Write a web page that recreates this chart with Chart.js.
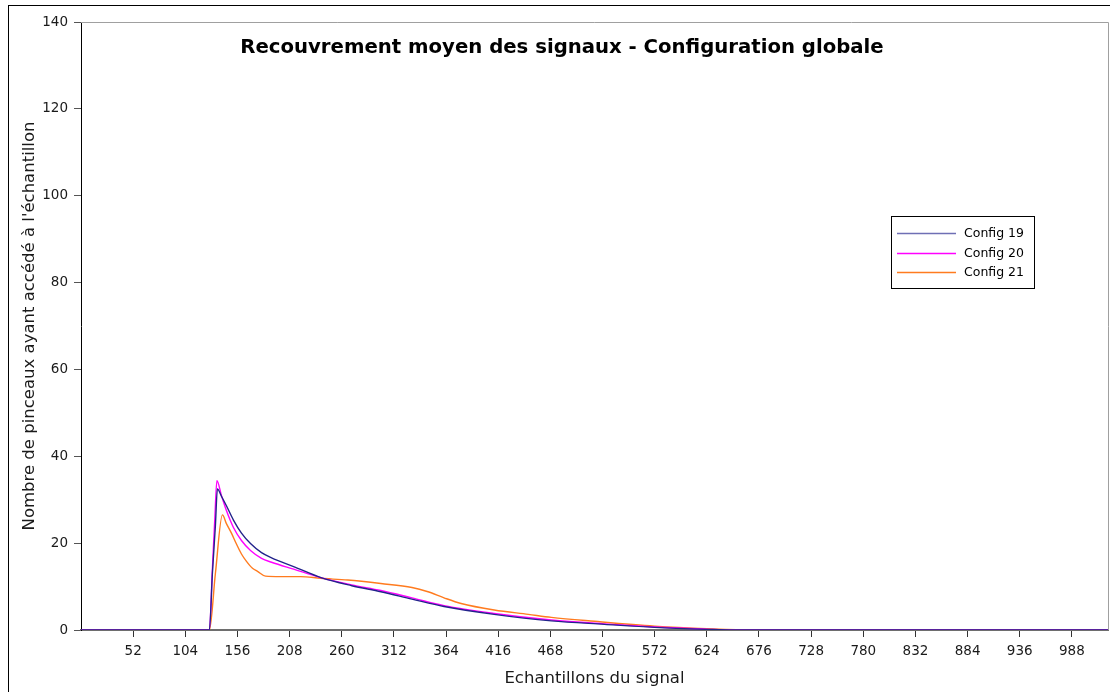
<!DOCTYPE html>
<html>
<head>
<meta charset="utf-8">
<title>Recouvrement moyen des signaux</title>
<script src="https://cdn.jsdelivr.net/npm/chart.js@4.4.0/dist/chart.umd.min.js"></script>
<style>
  html, body { margin: 0; padding: 0; background: #ffffff; }
  #chartBox { width: 1110px; height: 692px; position: relative; }
</style>
</head>
<body>
<div id="chartBox"><canvas id="lineChart" width="1110" height="692"></canvas></div>
<script>
const chartTitle = 'Recouvrement moyen des signaux - Configuration globale';
const xAxisTitle = 'Echantillons du signal';
const yAxisTitle = "Nombre de pinceaux ayant accédé à l'échantillon";

const seriesNames = ['Config 19', 'Config 20', 'Config 21'];
const seriesColors = ['#23238c', '#ff00ff', '#ff7b1f'];

// tick labels
const xTicks = [52, 104, 156, 208, 260, 312, 364, 416, 468, 520, 572, 624, 676, 728, 780, 832, 884, 936, 988];
const yTicks = [0, 20, 40, 60, 80, 100, 120, 140];

// values (sample index -> value)
const config19X = [0, 128, 131, 134, 136, 140, 145, 152, 160, 169, 180, 190, 212, 240, 270, 299, 330, 362, 412, 469, 522, 572, 624, 650, 1024];
const config19Y = [0, 0, 13, 24, 32.5, 30.8, 28.6, 25.3, 22.3, 19.9, 17.8, 16.6, 14.6, 12.0, 10.2, 8.8, 7.1, 5.4, 3.6, 2.1, 1.3, 0.6, 0.15, 0, 0];

const config20X = [0, 128, 131, 133.5, 135.5, 140, 145, 152, 160, 169, 180, 190, 212, 240, 270, 299, 330, 362, 412, 469, 522, 572, 624, 650, 1024];
const config20Y = [0, 0, 14, 26, 34.4, 31.0, 27.5, 23.6, 20.6, 18.3, 16.5, 15.6, 14.0, 12.0, 10.4, 9.1, 7.4, 5.6, 3.8, 2.3, 1.4, 0.7, 0.2, 0, 0];

const config21X = [0, 128, 134, 141, 145, 150, 155, 160, 165, 171, 176, 184, 199, 219, 239, 266, 299, 330, 346, 362, 379, 412, 446, 469, 512, 572, 624, 670, 1024];
const config21Y = [0, 0, 13, 26.5, 24.5, 22.3, 19.8, 17.5, 15.8, 14.2, 13.5, 12.4, 12.3, 12.3, 11.9, 11.5, 10.7, 9.8, 8.8, 7.4, 6.1, 4.6, 3.6, 2.9, 2.0, 0.9, 0.3, 0, 0];

const seriesX = [config19X, config20X, config21X];
const seriesY = [config19Y, config20Y, config21Y];

const baseFont = 'DejaVu Sans';

// frame, plot borders, title and legend drawn inside the plot area
const decorPlugin = {
  id: 'decor',
  afterDraw(chart) {
    const ctx = chart.ctx;
    const area = chart.chartArea;
    ctx.save();

    // outer frame
    ctx.strokeStyle = '#000000';
    ctx.lineWidth = 1;
    ctx.strokeRect(8.5, 5.5, chart.width + 10, chart.height + 10);

    // top and right border of the plot
    ctx.strokeStyle = '#a0a0a0';
    ctx.beginPath();
    ctx.moveTo(area.left, Math.round(area.top) + 0.5);
    ctx.lineTo(Math.round(area.right) + 0.5, Math.round(area.top) + 0.5);
    ctx.lineTo(Math.round(area.right) + 0.5, area.bottom);
    ctx.stroke();

    // title
    ctx.fillStyle = '#000000';
    ctx.font = 'bold 19.7px "' + baseFont + '"';
    ctx.textAlign = 'center';
    ctx.textBaseline = 'middle';
    ctx.fillText(chartTitle, area.left + 481, area.top + 26);

    // legend
    const boxLeft = area.right - 217;
    const boxTop = area.top + 194;
    ctx.strokeStyle = '#000000';
    ctx.lineWidth = 1;
    ctx.strokeRect(Math.round(boxLeft) + 0.5, Math.round(boxTop) + 0.5, 143, 72);
    ctx.font = '12.5px "' + baseFont + '"';
    ctx.textAlign = 'left';
    chart.data.datasets.forEach((ds, i) => {
      const y = Math.round(boxTop + 17 + i * 19.5) + 0.5;
      ctx.strokeStyle = i === 0 ? '#6f6fb5' : ds.borderColor;
      ctx.lineWidth = 1.3;
      ctx.beginPath();
      ctx.moveTo(boxLeft + 6, y);
      ctx.lineTo(boxLeft + 65, y);
      ctx.stroke();
      ctx.fillStyle = '#000000';
      ctx.fillText(ds.label, boxLeft + 73, y);
    });

    ctx.restore();
  }
};

const chartData = {
  datasets: seriesNames.map((name, i) => ({
    label: name,
    data: seriesX[i].map((x, j) => ({ x: x, y: seriesY[i][j] })),
    borderColor: seriesColors[i],
    backgroundColor: seriesColors[i],
    borderWidth: 1.4,
    pointRadius: 0,
    fill: false,
    cubicInterpolationMode: 'monotone'
  }))
};

const ctx = document.getElementById('lineChart').getContext('2d');
const chartInstance = new Chart(ctx, {
  type: 'line',
  data: chartData,
  plugins: [decorPlugin],
  options: {
    responsive: false,
    animation: false,
    devicePixelRatio: 1,
    layout: {
      padding: { left: 0, top: 22, right: 2, bottom: 0 }
    },
    scales: {
      x: {
        type: 'linear',
        min: 0,
        max: 1024,
        afterBuildTicks: function (scale) {
          scale.ticks = xTicks.map(v => ({ value: v }));
        },
        afterFit: function (scale) {
          scale.height = 62;
        },
        ticks: {
          color: '#1a1a1a',
          padding: 6,
          maxRotation: 0,
          autoSkip: false,
          font: { family: baseFont, size: 13.5 }
        },
        grid: {
          drawOnChartArea: false,
          tickLength: 7,
          tickColor: '#333333'
        },
        border: { color: '#6e6e6e', width: 2 },
        title: {
          display: true,
          text: xAxisTitle,
          color: '#1a1a1a',
          font: { family: baseFont, size: 16.5 },
          padding: { top: 0, bottom: 3 }
        }
      },
      y: {
        min: 0,
        max: 140,
        afterBuildTicks: function (scale) {
          scale.ticks = yTicks.map(v => ({ value: v }));
        },
        afterFit: function (scale) {
          scale.width = 81;
        },
        ticks: {
          color: '#1a1a1a',
          padding: 6,
          font: { family: baseFont, size: 13.5 }
        },
        grid: {
          drawOnChartArea: false,
          tickLength: 7,
          tickColor: '#555555'
        },
        border: { color: '#000000', width: 1 },
        title: {
          display: true,
          text: yAxisTitle,
          color: '#1a1a1a',
          font: { family: baseFont, size: 16.5 },
          padding: { top: 20, bottom: 0 }
        }
      }
    },
    plugins: {
      legend: { display: false },
      title: { display: false },
      tooltip: { enabled: false }
    }
  }
});
</script>
</body>
</html>
